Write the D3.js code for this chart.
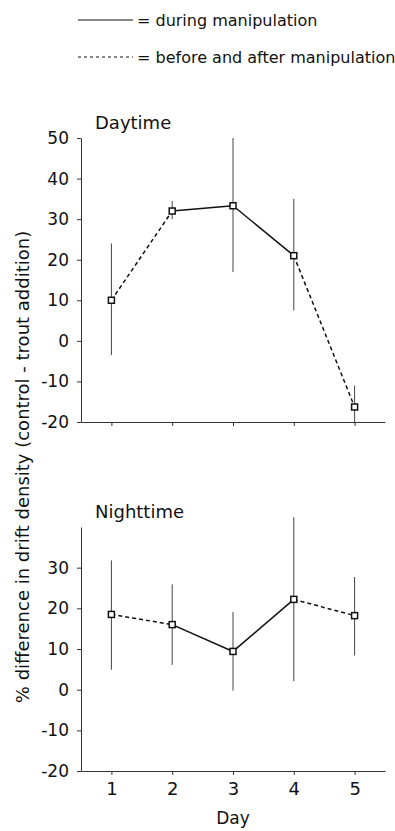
<!DOCTYPE html>
<html>
<head>
<meta charset="utf-8">
<script src="https://cdn.jsdelivr.net/npm/d3@7"></script>
<style>
    body { margin: 0; background: #fff; }
    text { font-family: "DejaVu Sans", sans-serif; fill: #111; }
</style>
</head>
<body>
<svg width="395" height="831"></svg>
<script>
var days = [1, 2, 3, 4, 5];

// daytime panel
var dayMean = [10, 32, 33.3, 21, -16.3];
var dayHigh = [24, 34.5, 50, 35, -11];
var dayLow = [-3.5, 30, 17, 7.5, -20];
var dayTicks = [-20, -10, 0, 10, 20, 30, 40, 50];

// nighttime panel
var nightMean = [18.5, 16, 9.4, 22.2, 18.2];
var nightHigh = [31.8, 25.9, 19.1, 42.4, 27.7];
var nightLow = [4.9, 6.1, -0.2, 2.1, 8.4];
var nightTicks = [-20, -10, 0, 10, 20, 30];

// line style between day i and day i+1
var segmentStyle = ["dashed", "solid", "solid", "dashed"];

var legendLabels = ["= during manipulation", "= before and after manipulation"];

var svg = d3.select("svg");

var xScale = d3.scaleLinear().domain([0.5, 5.5]).range([81, 385]);
var yDay = d3.scaleLinear().domain([-20, 50]).range([422, 138]);
var yNight = d3.scaleLinear().domain([-20, 40]).range([771, 527]);

// legend
var legend = svg.append("g");
legend.selectAll("line")
    .data(legendLabels)
    .enter()
    .append("line")
    .attr("x1", 78)
    .attr("x2", 133)
    .attr("y1", function (d, i) { return 20 + i * 37; })
    .attr("y2", function (d, i) { return 20 + i * 37; })
    .attr("stroke", "#111")
    .attr("stroke-width", 1)
    .attr("stroke-dasharray", function (d, i) { return i === 0 ? null : "3,3"; });
legend.selectAll("text")
    .data(legendLabels)
    .enter()
    .append("text")
    .attr("x", 137)
    .attr("y", function (d, i) { return 20 + i * 37; })
    .attr("dy", "0.35em")
    .style("font-size", "16px")
    .text(function (d) { return d; });

var drawPanel = function (means, highs, lows, yScale, ticks, title, showDays) {
    var g = svg.append("g");

    var yAxis = g.append("g")
        .attr("transform", "translate(81,0)")
        .call(d3.axisLeft(yScale).tickValues(ticks).tickSize(4).tickSizeOuter(0).tickPadding(8)
            .tickFormat(function (d) { return String(d); }));
    yAxis.selectAll("text").style("font-size", "17px").style("font-family", "DejaVu Sans");
    yAxis.selectAll("line, path").attr("stroke", "#333");

    var xAxis = g.append("g")
        .attr("transform", "translate(0," + yScale.range()[0] + ")")
        .call(d3.axisBottom(xScale).tickValues(days).tickSize(4).tickSizeOuter(0).tickPadding(7)
            .tickFormat(function (d) { return showDays ? String(d) : ""; }));
    xAxis.selectAll("text").style("font-size", "18px").style("font-family", "DejaVu Sans");
    xAxis.selectAll("line, path").attr("stroke", "#333");

    g.append("text")
        .attr("x", 95)
        .attr("y", yScale.range()[1] - 9)
        .style("font-size", "18px")
        .text(title);

    // error bars
    g.selectAll(".err")
        .data(days)
        .enter()
        .append("line")
        .attr("class", "err")
        .attr("x1", function (d) { return xScale(d); })
        .attr("x2", function (d) { return xScale(d); })
        .attr("y1", function (d, i) { return yScale(highs[i]); })
        .attr("y2", function (d, i) { return yScale(lows[i]); })
        .attr("stroke", "#444")
        .attr("stroke-width", 1);

    // connecting segments
    g.selectAll(".seg")
        .data(segmentStyle)
        .enter()
        .append("line")
        .attr("class", "seg")
        .attr("x1", function (d, i) { return xScale(days[i]); })
        .attr("x2", function (d, i) { return xScale(days[i + 1]); })
        .attr("y1", function (d, i) { return yScale(means[i]); })
        .attr("y2", function (d, i) { return yScale(means[i + 1]); })
        .attr("stroke", "#111")
        .attr("stroke-width", 1.5)
        .attr("stroke-dasharray", function (d) { return d === "dashed" ? "4,3" : null; });

    g.selectAll(".pt")
        .data(days)
        .enter()
        .append("rect")
        .attr("class", "pt")
        .attr("x", function (d) { return xScale(d) - 3; })
        .attr("y", function (d, i) { return yScale(means[i]) - 3; })
        .attr("width", 6)
        .attr("height", 6)
        .attr("fill", "#fff")
        .attr("stroke", "#111")
        .attr("stroke-width", 1.5);
};

drawPanel(dayMean, dayHigh, dayLow, yDay, dayTicks, "Daytime", false);
drawPanel(nightMean, nightHigh, nightLow, yNight, nightTicks, "Nighttime", true);

svg.append("text")
    .attr("transform", "translate(29,467) rotate(-90)")
    .style("text-anchor", "middle")
    .style("font-size", "18px")
    .style("fill", "#111")
    .text("% difference in drift density (control - trout addition)");

svg.append("text")
    .attr("x", xScale(3))
    .attr("y", 824)
    .style("text-anchor", "middle")
    .style("font-size", "17px")
    .text("Day");
</script>
</body>
</html>
